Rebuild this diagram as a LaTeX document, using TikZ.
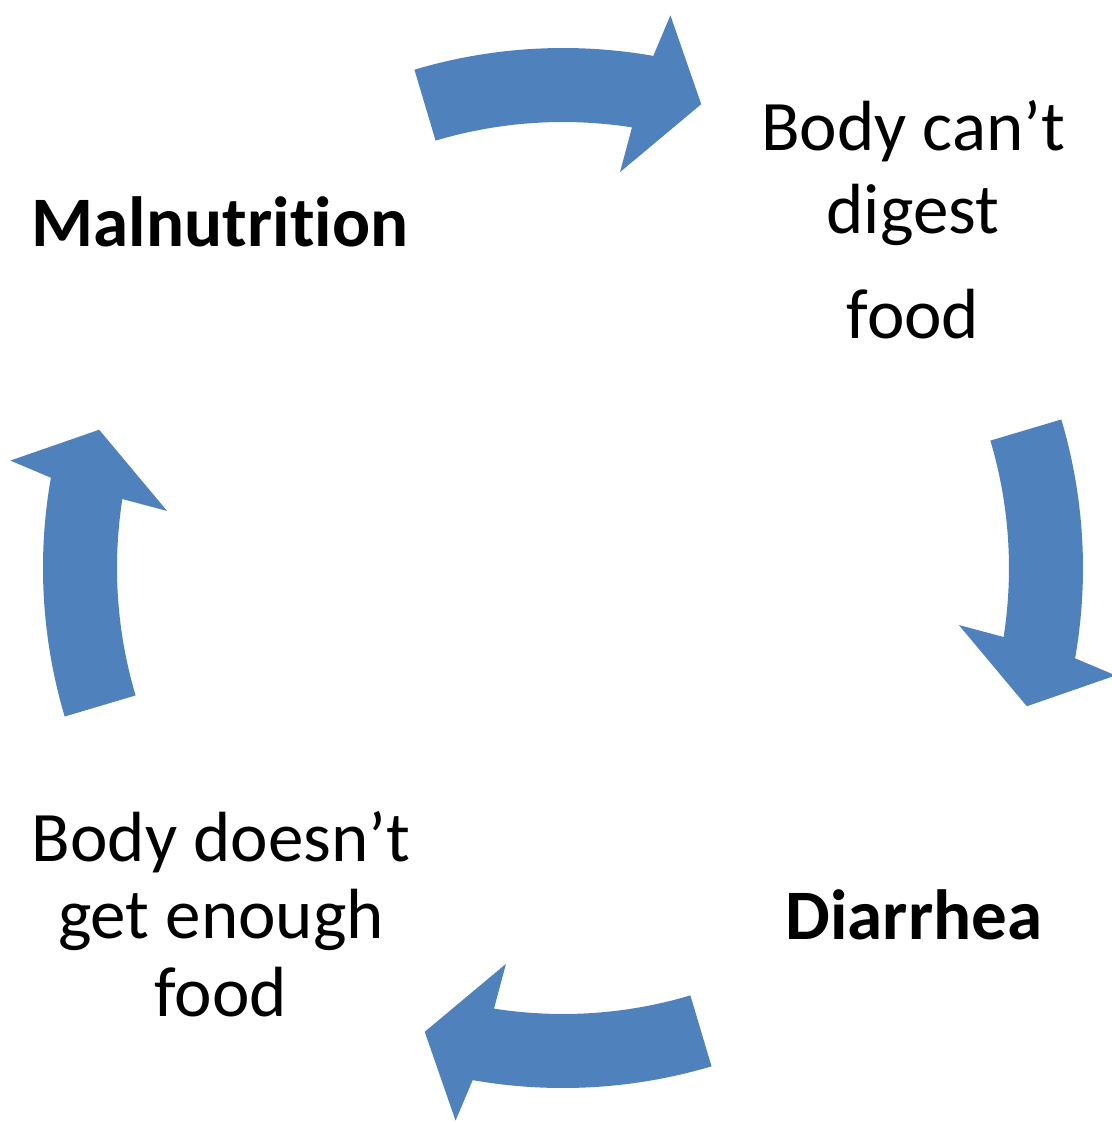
\documentclass[tikz,border=0pt]{standalone}
\usepackage{fontspec}
\setmainfont{Carlito}[Ligatures=NoCommon]
\usepackage{tikz}
\usetikzlibrary{positioning}
\definecolor{officeblue}{RGB}{79,129,189}

\begin{document}
\begin{tikzpicture}[x=0.01cm,y=0.01cm,
    every node/.style={font=\fontsize{20.2pt}{21.9pt}\selectfont,inner sep=0pt,align=center},
    cyclearrow/.style={fill=officeblue,draw=none}]
    \useasboundingbox (-563,-555) rectangle (549,568);
    % four curved arrows, clockwise
    \foreach \ang in {90,0,-90,180}
        \fill[cyclearrow] ({\ang+16.6}:520) arc[start angle={\ang+16.6},end angle={\ang-10},radius=520]
            -- ({\ang-11}:563) -- ({\ang-16.6}:484) -- ({\ang-8.2}:400) -- ({\ang-8.9}:446)
            arc[start angle={\ang-8.9},end angle={\ang+16.6},radius=446] -- cycle;
    \node[anchor=base,font=\fontsize{20.2pt}{21.9pt}\selectfont\bfseries] (malnutrition) at (-343,322) {Malnutrition};
    \node[anchor=base] (cantdigest) at (350,230) {Body can’t\\[1.7pt] digest\\[7.7pt] food};
    \node[anchor=base,font=\fontsize{20.2pt}{21.9pt}\selectfont\bfseries] (diarrhea) at (351,-371) {Diarrhea};
    \node[anchor=base] (notenough) at (-342,-448) {Body doesn’t\\ get enough\\ food};
\end{tikzpicture}
\end{document}
